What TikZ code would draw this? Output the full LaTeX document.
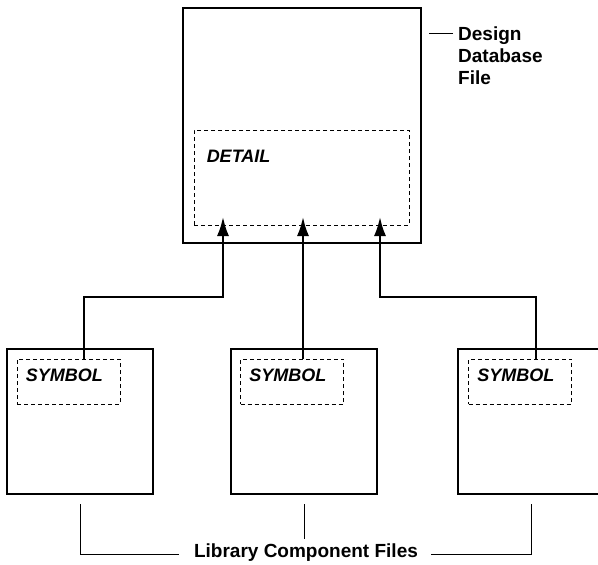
\documentclass[tikz,border=0pt]{standalone}
\usepackage{fontspec}
\setmainfont{Liberation Sans}
\usetikzlibrary{arrows.meta}

\begin{document}
\begin{tikzpicture}[x=1pt,y=-1pt,
    filebox/.style={draw,line width=2.3pt,minimum width=146pt,minimum height=145pt,inner sep=0pt},
    viewbox/.style={draw,line width=0.9pt,dash pattern=on 4pt off 3pt,inner sep=0pt},
    lbl/.style={font=\fontsize{18}{22}\selectfont\bfseries\itshape,anchor=west,inner sep=0pt},
    note/.style={font=\fontsize{19}{22}\selectfont\bfseries,inner sep=0pt},
    link/.style={line width=2pt,-{Latex[length=19pt,width=12pt]}},
    brace/.style={line width=0.9pt}]
  \useasboundingbox (0,0) rectangle (598,565);
  \clip (0,0) rectangle (598,565);

  % design database file
  \node[filebox,minimum width=238pt,minimum height=235pt] (db) at (302,125.5) {};
  \node[viewbox,minimum width=215pt,minimum height=95pt] (detail) at (301.5,177.5) {};
  \node[lbl] (detailtxt) at ([xshift=13pt,yshift=21pt]detail.west) {DETAIL};
  \node[note,align=left,anchor=north west] (dbtxt) at (458,27) {Design\\Database\\File};
  \draw[brace] ([xshift=-5pt,yshift=-6pt]dbtxt.north west) -- ++(-24,0);

  % library component files
  \foreach \n/\x/\s in {1/80/68.5, 2/304/292, 3/531/520} {
    \node[filebox] (lib\n) at (\x,421.5) {};
    \node[viewbox,minimum width=103pt,minimum height=45pt] (sym\n) at (\s,381.5) {};
    \node[lbl] (symtxt\n) at ([xshift=9pt,yshift=6.5pt]sym\n.west) {SYMBOL};
  }

  \coordinate (tip1) at (223,217);
  \coordinate (tip2) at (303,217);
  \coordinate (tip3) at (380,217);
  \draw[link] ([xshift=15.5pt]sym1.north) |- ([yshift=-80pt]tip1) -- (tip1);
  \draw[link] ([xshift=11pt]sym2.north) -- (tip2);
  \draw[link] ([xshift=16pt]sym3.north) |- ([yshift=-80pt]tip3) -- (tip3);

  \node[note,anchor=base] (libtxt) at (306,557) {Library Component Files};
  \draw[brace] ([yshift=-9pt]lib1.south) |- ([xshift=-15pt,yshift=3pt]libtxt.base west);
  \draw[brace] ([yshift=-9pt]lib3.south) |- ([xshift=13pt,yshift=3pt]libtxt.base east);
  \draw[brace] ([yshift=-9pt]lib2.south) -- ([yshift=4pt]lib2.south |- libtxt.north);
\end{tikzpicture}
\end{document}
